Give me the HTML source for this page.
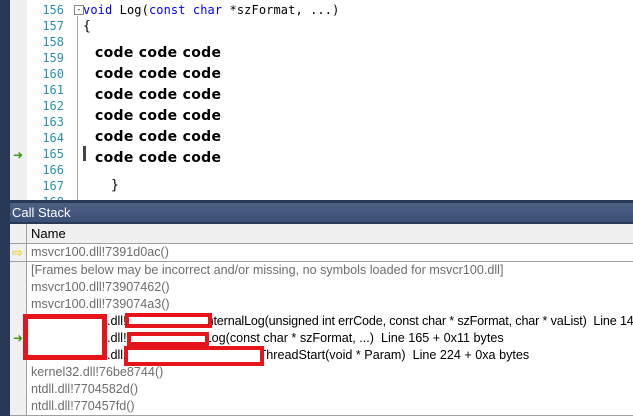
<!DOCTYPE html>
<html><head><meta charset="utf-8"><style>
body{margin:0;width:633px;height:411px;overflow:hidden;background:#293955;position:relative;font-family:"Liberation Sans",sans-serif}
.a{position:absolute}
.ln{position:absolute;left:40px;width:24px;text-align:right;font:12px "DejaVu Sans Mono",monospace;color:#2b91af}
.cd{position:absolute;left:95px;font:bold 14px "DejaVu Sans",sans-serif;color:#000;letter-spacing:0.3px}
.row{position:absolute;left:10px;width:623px;height:17px;border-bottom:1px solid #a0a0a0;background:#fff}
.row .ic{position:absolute;left:0;top:0;width:16px;height:17px;background:#f0f0f0;border-right:1px solid #a0a0a0}
.row span{position:absolute;left:21px;top:1px;font-size:12.6px;color:#6d6d6d;white-space:nowrap}
.row span.b{color:#000}
.rb{position:absolute;border:4px solid #e8141c;background:#fff;box-sizing:border-box}
</style></head><body>
<div class="a" style="left:10px;top:0;width:623px;height:200px;background:#fff"></div>
<div class="a" style="left:10px;top:0;width:17px;height:200px;background:#f0f0f0"></div>
<div class="a" style="left:77px;top:16px;width:1px;height:184px;background:#a5a5a5"></div>
<div class="a" style="left:74px;top:5px;width:8px;height:8px;border:1px solid #888;background:#fff;font-size:8px;line-height:7px;text-align:center">-</div>
<div class="ln" style="top:3px">156</div><div class="ln" style="top:19px">157</div><div class="ln" style="top:35px">158</div><div class="ln" style="top:51px">159</div><div class="ln" style="top:67px">160</div><div class="ln" style="top:83px">161</div><div class="ln" style="top:99px">162</div><div class="ln" style="top:115px">163</div><div class="ln" style="top:131px">164</div><div class="ln" style="top:147px">165</div><div class="ln" style="top:163px">166</div><div class="ln" style="top:179px">167</div><div class="ln" style="top:195px">168</div>
<div class="a" style="left:83px;top:3px;font:12px 'DejaVu Sans Mono',monospace;white-space:nowrap;letter-spacing:0.1px"><span style="color:#00f">void</span> Log(<span style="color:#00f">const</span> <span style="color:#00f">char</span> *szFormat, ...)</div>
<div class="a" style="left:83px;top:19px;font:13px 'DejaVu Sans Mono',monospace">{</div>
<div class="cd" style="top:45px">code code code</div><div class="cd" style="top:66px">code code code</div><div class="cd" style="top:87px">code code code</div><div class="cd" style="top:108px">code code code</div><div class="cd" style="top:129px">code code code</div><div class="cd" style="top:150px">code code code</div>
<div class="a" style="left:83px;top:146px;width:3px;height:15px;background:#444"></div>
<div class="a" style="left:111px;top:178px;font:13px 'DejaVu Sans Mono',monospace">}</div>
<div class="a" style="left:13px;top:148px;color:#3a9a1a;font-size:12px">➜</div>
<div class="a" style="left:0;top:200px;width:633px;height:24px;background:#293955"></div>
<div class="a" style="left:10px;top:203px;width:623px;height:19px;background:linear-gradient(#4d6185,#3b4f77)"></div>
<div class="a" style="left:12px;top:205px;color:#fff;font-size:13px">Call Stack</div>
<div class="a" style="left:10px;top:224px;width:623px;height:19px;background:#f0f0f0;border-bottom:1px solid #a0a0a0"></div>
<div class="a" style="left:26px;top:224px;width:1px;height:187px;background:#a0a0a0"></div>
<div class="a" style="left:31px;top:226px;font-size:13px;color:#000">Name</div>
<div class="row" style="top:244px"><div class="ic"></div><span>msvcr100.dll!7391d0ac()</span></div>
<div class="a" style="left:12px;top:245px;color:#e6c800;font-size:13px">⇨</div>
<div class="row" style="top:262px"><div class="ic"></div><span>[Frames below may be incorrect and/or missing, no symbols loaded for msvcr100.dll]</span></div>
<div class="row" style="top:279px"><div class="ic"></div><span>msvcr100.dll!73907462()</span></div>
<div class="row" style="top:296px"><div class="ic"></div><span>msvcr100.dll!739074a3()</span></div>
<div class="row" style="top:313px"><div class="ic"></div><span class="b" style="left:97px">.dll!<span class="b" style="position:static;margin-left:80px;letter-spacing:-0.15px">nternalLog(unsigned int errCode, const char * szFormat, char * vaList)&nbsp; Line 147</span></span></div>
<div class="row" style="top:330px"><div class="ic"></div><span class="b" style="left:97px">.dll!<span class="b" style="position:static;margin-left:78px">Log(const char * szFormat, ...)&nbsp; Line 165 + 0x11 bytes</span></span></div>
<div class="a" style="left:13px;top:331px;color:#3a9a1a;font-size:12px">➜</div>
<div class="row" style="top:347px"><div class="ic"></div><span class="b" style="left:97px">.dll!<span class="b" style="position:static;margin-left:132px">ThreadStart(void * Param)&nbsp; Line 224 + 0xa bytes</span></span></div>
<div class="row" style="top:364px"><div class="ic"></div><span>kernel32.dll!76be8744()</span></div>
<div class="row" style="top:381px"><div class="ic"></div><span>ntdll.dll!7704582d()</span></div>
<div class="row" style="top:398px"><div class="ic"></div><span>ntdll.dll!770457fd()</span></div>
<div class="rb" style="left:23px;top:314px;width:84px;height:46px;border-width:5px"></div>
<div class="rb" style="left:125px;top:313px;width:87px;height:15px"></div>
<div class="rb" style="left:127px;top:332px;width:82px;height:14px"></div>
<div class="rb" style="left:124px;top:346px;width:140px;height:20px"></div>
</body></html>
